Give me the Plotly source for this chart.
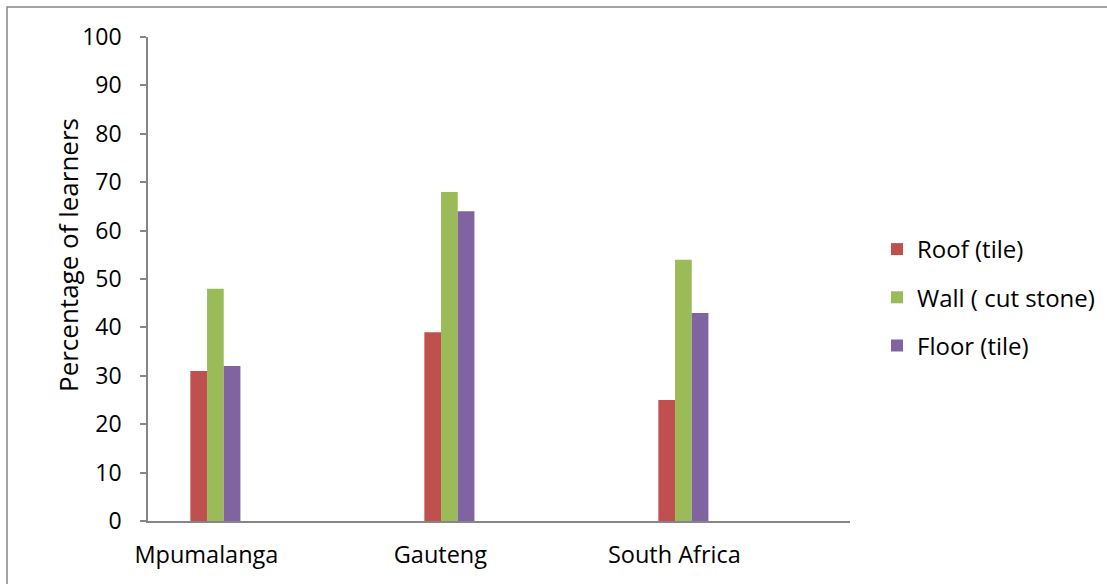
import plotly.graph_objects as go

# Share of learners whose dwelling has each building material
regions = ["Mpumalanga", "Gauteng", "South Africa"]
roof_tile = [31, 39, 25]
wall_cut_stone = [48, 68, 54]
floor_tile = [32, 64, 43]

series_names = ["Roof (tile)", "Wall ( cut stone)", "Floor (tile)"]
series_colors = ["#C0504D", "#9BBB59", "#8064A2"]
series_values = [roof_tile, wall_cut_stone, floor_tile]

y_ticks = list(range(0, 101, 10))
positions = list(range(len(regions)))

FONT = "'Open Sans', sans-serif"

fig = go.Figure()
for name, color, values in zip(series_names, series_colors, series_values):
    fig.add_trace(go.Bar(
        x=positions,
        y=values,
        name=name,
        marker=dict(color=color, line=dict(width=0)),
        legendgroup=name,
    ))

# plot area spans 148..850 px horizontally and 37..521 px vertically
W, H = 1107, 584
L, R, T, B = 148, W - 850, 37, H - 521
pw, ph = W - L - R, H - T - B


def px_x(px):
    return (px - L) / pw


def px_y(py):
    return (H - B - py) / ph


fig.update_layout(
    width=W,
    height=H,
    margin=dict(l=L, r=R, t=T, b=B, autoexpand=False),
    paper_bgcolor="white",
    plot_bgcolor="white",
    barmode="group",
    bargap=0.786,
    bargroupgap=0,
    font=dict(family=FONT, size=23, color="#000000"),
    xaxis=dict(
        range=[-0.288, 2.712],
        tickvals=positions,
        ticktext=regions,
        ticks="",
        showgrid=False,
        zeroline=False,
        showline=True,
        linecolor="#868686",
        linewidth=1.5,
        ticklabelshift=-9,
        ticklabelstandoff=12,
        tickfont=dict(size=23.5),
    ),
    yaxis=dict(
        range=[0, 100],
        tickvals=y_ticks,
        ticks="outside",
        ticklen=6,
        tickcolor="#868686",
        tickwidth=1.5,
        showgrid=False,
        zeroline=False,
        showline=True,
        linecolor="#868686",
        linewidth=1.5,
        ticklabelstandoff=14,
        tickfont=dict(size=23),
    ),
    legend=dict(
        x=px_x(877),
        y=px_y(227),
        xanchor="left",
        yanchor="top",
        traceorder="grouped",
        tracegroupgap=14,
        bgcolor="rgba(0,0,0,0)",
        font=dict(family=FONT, size=24),
        itemwidth=30,
    ),
    annotations=[
        dict(
            text="Percentage of learners",
            xref="paper", yref="paper",
            x=px_x(68), y=px_y(255),
            textangle=-90,
            showarrow=False,
            xanchor="center", yanchor="middle",
            font=dict(family=FONT, size=26),
        )
    ],
    shapes=[
        dict(
            type="rect",
            xref="paper", yref="paper",
            x0=px_x(7), y0=px_y(600), x1=px_x(1120), y1=px_y(7),
            line=dict(color="#868686", width=1.5),
            fillcolor="rgba(0,0,0,0)",
            layer="below",
        )
    ],
)

fig.write_html("out.html")
